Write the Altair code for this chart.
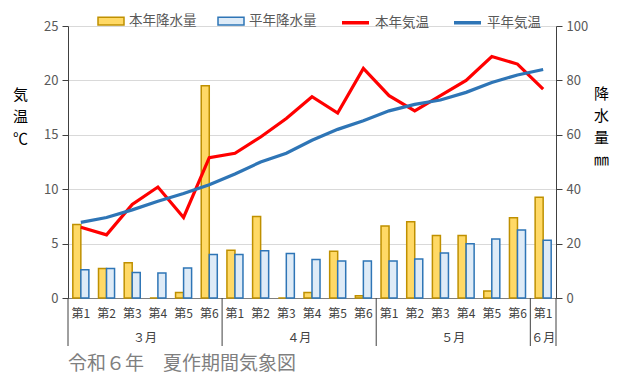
import altair as alt
import pandas as pd

months = ["3月"] * 6 + ["4月"] * 6 + ["5月"] * 6 + ["6月"]
weeks = ["第1", "第2", "第3", "第4", "第5", "第6"] * 3 + ["第1"]
cats = [m + w for m, w in zip(months, weeks)]

rain_this = [27.0, 10.8, 13.0, 0.0, 2.0, 78.0, 17.6, 30.0, 0.0, 2.0, 17.2, 0.8,
             26.5, 28.0, 23.0, 23.0, 2.6, 29.5, 37.0]
rain_norm = [10.4, 10.8, 9.4, 9.2, 11.0, 16.0, 16.0, 17.4, 16.4, 14.2, 13.6, 13.6,
             13.6, 14.3, 16.5, 19.9, 21.7, 25.0, 21.2]
temp_this = [6.5, 5.8, 8.6, 10.2, 7.4, 12.9, 13.3, 14.8, 16.5, 18.5, 17.0, 21.1,
             18.6, 17.2, 18.6, 20.0, 22.2, 21.5, 19.2]
temp_norm = [6.95, 7.4, 8.1, 8.9, 9.6, 10.4, 11.4, 12.5, 13.3, 14.5, 15.5, 16.3,
             17.2, 17.8, 18.2, 18.9, 19.8, 20.5, 21.0]

rain_series = ["本年降水量", "平年降水量"]
temp_series = ["本年気温", "平年気温"]

month_labels = ["３月", "４月", "５月"]
month_label_cats = ["3月第3", "4月第3", "5月第3"]
june_label = ["６月"]
june_cat = ["6月第1"]
sep_cats = ["3月第1", "4月第1", "5月第1", "6月第1"]
end_cat = ["6月第1"]
title_text = "令和６年　夏作期間気象図"

FONT = "Noto Sans CJK JP"

rain_df = pd.DataFrame({
    "cat": cats * 2,
    "series": [rain_series[0]] * len(cats) + [rain_series[1]] * len(cats),
    "value": rain_this + rain_norm,
})
temp_df = pd.DataFrame({
    "cat": cats * 2,
    "series": [temp_series[0]] * len(cats) + [temp_series[1]] * len(cats),
    "value": temp_this + temp_norm,
})

xscale = alt.Scale(domain=cats, paddingInner=0, paddingOuter=0)

bar_legend = alt.Legend(title=None, orient="none", legendX=29, legendY=-19,
                        direction="horizontal", symbolType="M-1,-0.3H1V0.3H-1Z",
                        symbolSize=676, symbolStrokeWidth=1.5,
                        labelFontSize=13.5, labelColor="#595959", labelFont=FONT,
                        columnPadding=18, labelOffset=4)

bars = alt.Chart(rain_df).mark_bar(strokeWidth=1.5).encode(
    x=alt.X("cat:N", scale=xscale, sort=cats, title=None,
            axis=alt.Axis(labelExpr="substring(datum.label, 2)", labelAngle=0,
                          labelFontSize=12, labelColor="#404040", labelFont=FONT,
                          labelPadding=10, ticks=False, domainColor="#7f7f7f",
                          grid=False)),
    xOffset=alt.XOffset("series:N", sort=rain_series,
                        scale=alt.Scale(domain=rain_series, paddingInner=0, paddingOuter=0.6)),
    y=alt.Y("value:Q", scale=alt.Scale(domain=[0, 100]),
            axis=alt.Axis(orient="right", values=[0, 20, 40, 60, 80, 100], grid=False,
                          tickSize=6, tickColor="#404040", domainColor="#404040",
                          labelFontSize=13, labelColor="#595959", labelPadding=4,
                          title=["降", "水", "量", "㎜"], titleAngle=0, titleFontSize=15,
                          titleFontWeight="normal", titleFont=FONT, titleColor="#000000",
                          titleX=45, titleY=60, titleAlign="center", titleBaseline="top",
                          titleLineHeight=22)),
    fill=alt.Fill("series:N", sort=rain_series,
                  scale=alt.Scale(domain=rain_series, range=["#FFD966", "#DEEBF7"]),
                  legend=bar_legend),
    stroke=alt.Stroke("series:N", sort=rain_series,
                      scale=alt.Scale(domain=rain_series, range=["#BF9000", "#2E75B6"]),
                      legend=bar_legend),
)

lines = alt.Chart(temp_df).mark_line(strokeWidth=3.2).encode(
    x=alt.X("cat:N", scale=xscale, sort=cats),
    y=alt.Y("value:Q", scale=alt.Scale(domain=[0, 25]),
            axis=alt.Axis(orient="left", values=[0, 5, 10, 15, 20, 25], grid=True,
                          gridColor="#D9D9D9", tickSize=6, tickColor="#404040",
                          domainColor="#404040", labelFontSize=13, labelColor="#595959",
                          labelPadding=4,
                          title=["気", "温", "℃"], titleAngle=0, titleFontSize=15,
                          titleFontWeight="normal", titleFont=FONT, titleColor="#000000",
                          titleX=-48, titleY=61, titleAlign="center", titleBaseline="top",
                          titleLineHeight=22)),
    color=alt.Color("series:N", sort=temp_series,
                    scale=alt.Scale(domain=temp_series, range=["#FF0000", "#2E75B6"]),
                    legend=alt.Legend(title=None, orient="none", legendX=272, legendY=-19,
                                      direction="horizontal", symbolType="stroke",
                                      symbolSize=729, symbolStrokeWidth=3.5,
                                      labelFontSize=13.5, labelColor="#595959", labelFont=FONT,
                                      columnPadding=18, labelOffset=4)),
    order=alt.Order("series:N"),
)

sep = alt.Chart(pd.DataFrame({"cat": sep_cats})).mark_rule(color="#404040", strokeWidth=1).encode(
    x=alt.X("cat:N", scale=xscale, sort=cats, bandPosition=0),
    y=alt.value(272), y2=alt.value(320),
)
sep_end = alt.Chart(pd.DataFrame({"cat": end_cat})).mark_rule(color="#404040", strokeWidth=1).encode(
    x=alt.X("cat:N", scale=xscale, sort=cats, bandPosition=1),
    y=alt.value(272), y2=alt.value(320),
)

mlabels = alt.Chart(pd.DataFrame({"cat": month_label_cats, "label": month_labels})).mark_text(
    fontSize=12, color="#404040", font=FONT, baseline="middle"
).encode(
    x=alt.X("cat:N", scale=xscale, sort=cats, bandPosition=1),
    y=alt.value(312), text="label:N",
)
jlabel = alt.Chart(pd.DataFrame({"cat": june_cat, "label": june_label})).mark_text(
    fontSize=12, color="#404040", font=FONT, baseline="middle"
).encode(
    x=alt.X("cat:N", scale=xscale, sort=cats, bandPosition=0.5),
    y=alt.value(312), text="label:N",
)

title = alt.Chart(pd.DataFrame({"t": [title_text]})).mark_text(
    fontSize=19, color="#7f7f7f", font=FONT, align="left", baseline="middle"
).encode(x=alt.value(0), y=alt.value(338), text="t:N")

chart = alt.layer(bars, lines, sep, sep_end, mlabels, jlabel, title).resolve_scale(
    y="independent"
).properties(
    width=488, height=272,
    autosize=alt.AutoSizeParams(type="none"),
    padding={"left": 60, "top": 18, "right": 60, "bottom": 82},
).configure_view(stroke=None).configure_axis(labelFont=FONT)

chart.save("out.html", embed_options={"renderer": "svg", "actions": False})
